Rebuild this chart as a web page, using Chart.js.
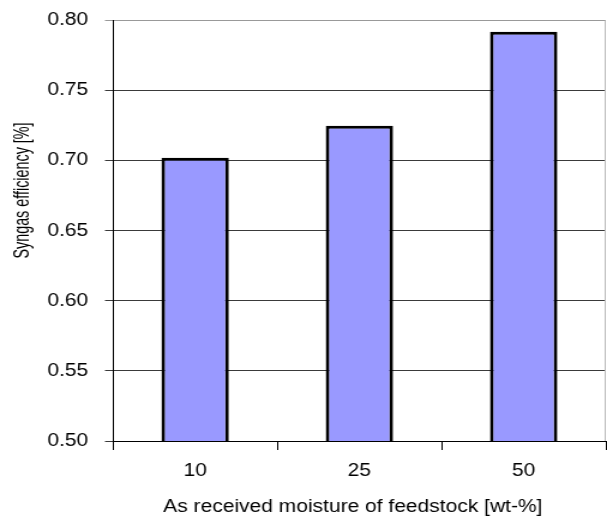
<!DOCTYPE html>
<html>
<head>
<meta charset="utf-8">
<script src="https://cdn.jsdelivr.net/npm/chart.js@4/dist/chart.umd.min.js"></script>
<style>
  html, body { margin: 0; padding: 0; background: #fff; overflow: hidden; }
  #wrap { width: 607px; height: 518px; }
  /* the canvas is drawn narrower and shown at full width, so the whole
     figure (text included) comes out horizontally widened */
  #c { display: block; }
</style>
</head>
<body>
<div id="wrap"><canvas id="c" width="506" height="518" style="width:607px;height:518px"></canvas></div>
<script>
// Moisture levels (wt-%) and the resulting syngas efficiency
const moistureLevels = ['10', '25', '50'];
const syngasEfficiency = [0.702, 0.725, 0.792];
const yTicks = [0.50, 0.55, 0.60, 0.65, 0.70, 0.75, 0.80];

const FAMILY = 'Liberation Sans, Arial, sans-serif';
const TICK_FONT = { family: FAMILY, size: 17.5 };
const TITLE_FONT = { family: FAMILY, size: 17.5 };

// Placement of the axis titles: the y title sits a little above the middle
// of the axis and is condensed along its length; the x title is nudged left.
const Y_TITLE_CENTER = 190.5;
const Y_TITLE_SQUEEZE = 0.82;
const X_TITLE_SHIFT = -5.5;

const titleShape = {
  id: 'titleShape',
  afterLayout(chart) {
    const y = chart.scales.y;
    if (!y._shaped) {
      const drawY = y.drawTitle.bind(y);
      y.drawTitle = function () {
        const ctx = this.ctx;
        const mid = (this.top + this.bottom) / 2;
        ctx.save();
        ctx.translate(0, Y_TITLE_CENTER);
        ctx.scale(1, Y_TITLE_SQUEEZE);
        ctx.translate(0, -mid);
        drawY();
        ctx.restore();
      };
      y._shaped = true;
    }
    const x = chart.scales.x;
    if (!x._shaped) {
      const drawX = x.drawTitle.bind(x);
      x.drawTitle = function () {
        const ctx = this.ctx;
        ctx.save();
        ctx.translate(X_TITLE_SHIFT, 0);
        drawX();
        ctx.restore();
      };
      x._shaped = true;
    }
  }
};

// Thin grey line on the right edge of the plot area
const rightEdge = {
  id: 'rightEdge',
  afterDraw(chart) {
    const { ctx, chartArea } = chart;
    ctx.save();
    ctx.strokeStyle = '#bbbbbb';
    ctx.lineWidth = 1;
    ctx.beginPath();
    ctx.moveTo(chartArea.right - 0.5, chartArea.top);
    ctx.lineTo(chartArea.right - 0.5, chartArea.bottom);
    ctx.stroke();
    ctx.restore();
  }
};

new Chart(document.getElementById('c'), {
  type: 'bar',
  data: {
    labels: moistureLevels,
    datasets: [{
      data: syngasEfficiency,
      backgroundColor: '#9999ff',
      borderColor: '#000000',
      borderWidth: 3,
      borderSkipped: false,
      barPercentage: 0.41,
      categoryPercentage: 1.0
    }]
  },
  options: {
    responsive: false,
    animation: false,
    devicePixelRatio: 1,
    layout: { padding: { left: 8.8, right: 1, top: 20.5, bottom: 0 } },
    plugins: {
      legend: { display: false },
      tooltip: { enabled: false }
    },
    scales: {
      x: {
        offset: true,
        grid: {
          offset: true,
          drawOnChartArea: false,
          drawTicks: true,
          tickLength: 9,
          color: '#000000'
        },
        border: { color: '#000000', width: 1 },
        ticks: { color: '#000000', font: TICK_FONT, padding: 10.5 },
        title: {
          display: true,
          text: 'As received moisture of feedstock [wt-%]',
          color: '#000000',
          font: TITLE_FONT,
          padding: { top: 0, bottom: 0 }
        },
        afterFit(scale) {
          scale.height = 77;
          scale.paddingLeft = 0;
          scale.paddingRight = 0;
        }
      },
      y: {
        min: 0.5,
        max: 0.8,
        afterBuildTicks(scale) {
          scale.ticks = yTicks.map(v => ({ value: v }));
        },
        grid: {
          color: ctx => (ctx.tick && ctx.tick.value >= 0.8 ? '#999999' : '#3a3a3a'),
          lineWidth: 1,
          tickLength: 6.7,
          drawTicks: true
        },
        border: { color: '#000000', width: 1 },
        ticks: {
          color: '#000000',
          font: TICK_FONT,
          padding: 14,
          callback: v => Number(v).toFixed(2)
        },
        title: {
          display: true,
          text: 'Syngas efficiency [%]',
          color: '#000000',
          font: TITLE_FONT,
          padding: { top: 0, bottom: 0 }
        },
        afterFit(scale) {
          scale.width = 85.4;
          scale.paddingTop = 0;
          scale.paddingBottom = 0;
        }
      }
    }
  },
  plugins: [titleShape, rightEdge]
});
</script>
</body>
</html>
